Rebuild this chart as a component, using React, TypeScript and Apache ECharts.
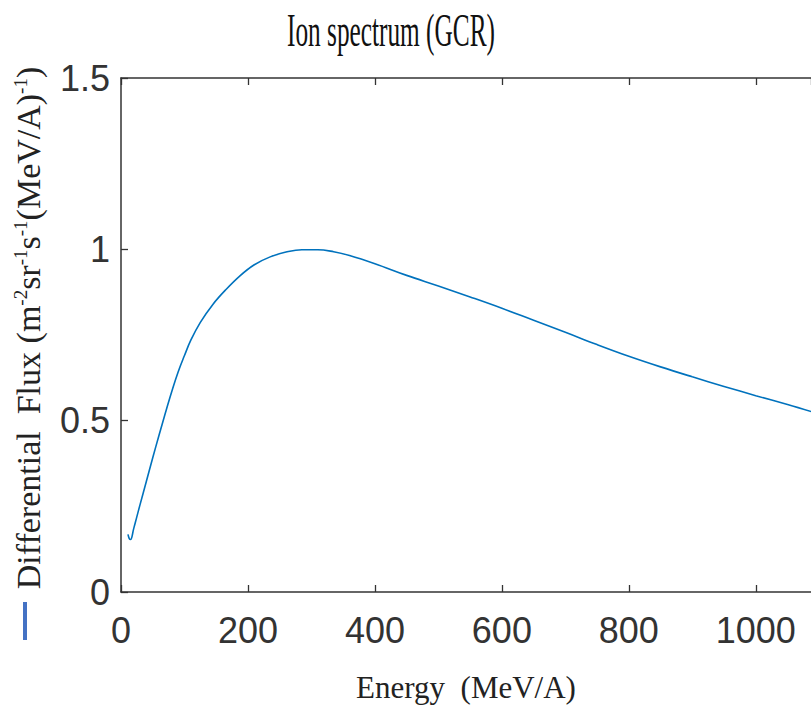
import React, { useEffect, useRef } from "react";
import * as echarts from "echarts";

const energy = [11, 13, 15, 20, 25, 30, 40, 50, 60, 70, 80, 90, 100, 110, 125, 145, 165, 187, 210, 235, 260, 285, 310, 335, 360, 400, 450, 500, 550, 600, 650, 700, 750, 800, 850, 900, 950, 1000, 1050, 1090];
const flux = [0.168, 0.156, 0.153, 0.185, 0.22, 0.255, 0.323, 0.392, 0.458, 0.523, 0.585, 0.642, 0.69, 0.735, 0.787, 0.84, 0.882, 0.922, 0.955, 0.978, 0.992, 0.999, 0.999, 0.993, 0.982, 0.958, 0.924, 0.893, 0.861, 0.828, 0.793, 0.758, 0.722, 0.688, 0.657, 0.628, 0.6, 0.573, 0.547, 0.525];
const xTicks = [0, 200, 400, 600, 800, 1000];
const yTicks = [0, 0.5, 1, 1.5];

const titleText = "Ion spectrum (GCR)";
const xName = "Energy  (MeV/A)";
const yName = "Differential  Flux (m{sup|-2}sr{sup|-1}s{sup|-1}(MeV/A){sup|-1})";

export default function App() {
  const ref = useRef<HTMLDivElement>(null);
  useEffect(() => {
    if (!ref.current) return;
    const chart = echarts.init(ref.current, null, { renderer: "svg" });
    const axisColor = "#333333";
    const labelFont = "Liberation Sans";
    const serif = "Liberation Serif";
    const data = energy.map((e, i) => [e, flux[i]]);
    chart.setOption({
      animation: false,
      backgroundColor: "#ffffff",
      grid: { left: 121, top: 78, width: 690, height: 520 },
      xAxis: [
        {
          type: "value",
          min: xTicks[0],
          max: 1087,
          interval: xTicks[1] - xTicks[0],
          position: "bottom",
          name: xName,
          nameLocation: "middle",
          nameGap: 80,
          nameTextStyle: { fontFamily: serif, fontSize: 31, color: "#222" },
          axisLine: { show: true, lineStyle: { color: axisColor, width: 1.5 } },
          axisTick: { show: true, inside: true, length: 7, lineStyle: { color: axisColor, width: 1.3 } },
          axisLabel: {
            fontFamily: labelFont,
            fontSize: 36,
            color: "#333",
            margin: 20,
            showMaxLabel: false,
            formatter: (v: number) => String(v),
          },
          splitLine: { show: false },
        },
        {
          type: "value",
          min: xTicks[0],
          max: 1087,
          interval: xTicks[1] - xTicks[0],
          position: "top",
          axisLine: { show: true, lineStyle: { color: axisColor, width: 1.5 } },
          axisTick: { show: true, inside: true, length: 7, lineStyle: { color: axisColor, width: 1.3 } },
          axisLabel: { show: false },
          splitLine: { show: false },
        },
      ],
      yAxis: {
        type: "value",
        min: yTicks[0],
        max: yTicks[yTicks.length - 1],
        interval: yTicks[1] - yTicks[0],
        name: yName,
        nameLocation: "middle",
        nameRotate: 90,
        nameGap: 76,
        nameTextStyle: {
          fontFamily: serif,
          fontSize: 34,
          color: "#222",
          padding: [0, 0, 0, 14],
          rich: {
            sup: { fontFamily: serif, fontSize: 19, verticalAlign: "top", color: "#222" },
          },
        },
        axisLine: { show: true, lineStyle: { color: axisColor, width: 1.5 } },
        axisTick: { show: true, inside: true, length: 7, lineStyle: { color: axisColor, width: 1.3 } },
        axisLabel: {
          fontFamily: labelFont,
          fontSize: 36,
          color: "#333",
          margin: 11,
          formatter: (v: number) => String(v),
        },
        splitLine: { show: false },
      },
      graphic: [
        {
          type: "text",
          x: 391,
          y: 31,
          scaleX: 0.55,
          style: {
            text: titleText,
            fontFamily: serif,
            fontSize: 46,
            fill: "#111",
            align: "center",
            verticalAlign: "middle",
            textAlign: "center",
            textVerticalAlign: "middle",
          },
        },
        {
          type: "rect",
          shape: { x: 23, y: 602, width: 4, height: 38 },
          style: { fill: "#4472C4" },
        },
      ],
      series: [
        {
          type: "line",
          data,
          showSymbol: false,
          smooth: 0.4,
          clip: true,
          lineStyle: { color: "#0072BD", width: 1.6 },
          itemStyle: { color: "#0072BD" },
        },
      ],
    });
    return () => chart.dispose();
  }, []);
  return <div ref={ref} style={{ position: "fixed", left: 0, top: 0, width: 811, height: 708 }} />;
}
